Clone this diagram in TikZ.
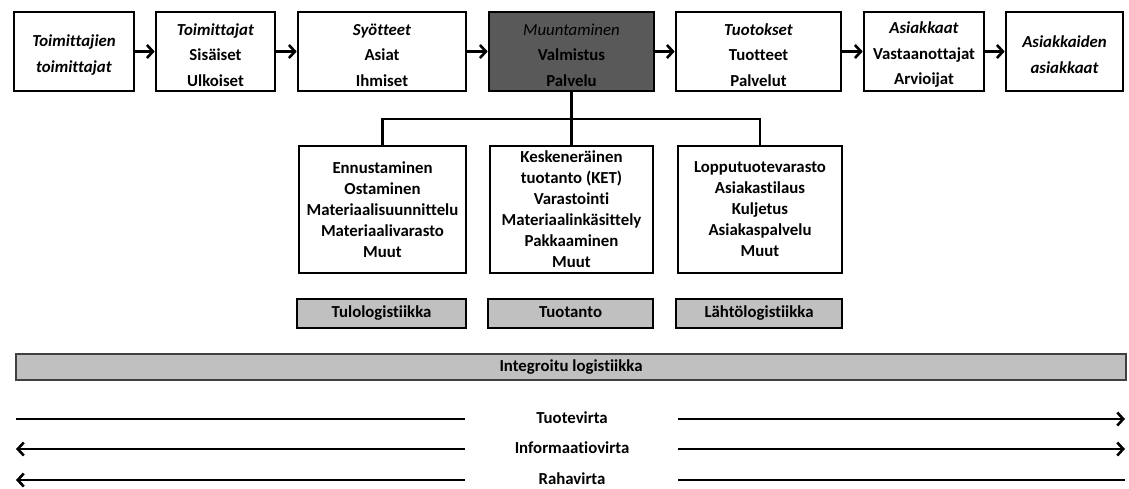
\documentclass[tikz,border=0pt]{standalone}
\usepackage{fontspec}
\setmainfont{Carlito}[Ligatures=NoCommon]
\usetikzlibrary{arrows.meta}
\definecolor{darkfill}{HTML}{595959}
\definecolor{lightfill}{HTML}{C0C0C0}
\definecolor{barline}{HTML}{404040}
% extra height on the first line lowers the text block a little
\newcommand\chainstrut{\rule{0pt}{18.5pt}}
\begin{document}
\begin{tikzpicture}[x=1pt,y=-1pt,
  chain/.style={draw, line width=2.6pt, fill=white, minimum height=79pt, inner sep=0pt,
    align=center, font=\bfseries\fontsize{16.8}{25.5}\selectfont},
  task/.style={draw, line width=1.3pt, fill=white, minimum height=127pt, inner sep=0pt,
    align=center, font=\bfseries\fontsize{16.8}{21}\selectfont},
  area/.style={draw, line width=2.6pt, fill=lightfill, minimum height=29pt, inner sep=0pt,
    text height=11.5pt, text depth=3.5pt, font=\bfseries\fontsize{16.8}{20}\selectfont},
  flowtext/.style={inner sep=0pt, text height=11.5pt, text depth=3.5pt,
    font=\bfseries\fontsize{16.8}{20}\selectfont},
  link/.style={line width=2.6pt},
  tip/.style={-{Straight Barb[length=6pt,width=13pt]}},
  pit/.style={{Straight Barb[length=6pt,width=13pt]}-}
]
\useasboundingbox (0,0) rectangle (1129,488);

% value chain
\node[chain, minimum width=120pt] (sup2) at (74,51.5) {\chainstrut\textit{Toimittajien}\\\textit{toimittajat}};
\node[chain, minimum width=119pt] (sup) at (215.5,51.5) {\chainstrut\textit{Toimittajat}\\Sisäiset\\Ulkoiset};
\node[chain, minimum width=168pt] (inp) at (382,51.5) {\chainstrut\textit{Syötteet}\\Asiat\\Ihmiset};
\node[chain, minimum width=165pt, fill=darkfill, text=black] (trans) at (571.5,51.5)
  {\chainstrut{\mdseries\textit{Muuntaminen}}\\Valmistus\\Palvelu};
\node[chain, minimum width=165pt] (outp) at (758.5,51.5) {\chainstrut\textit{Tuotokset}\\Tuotteet\\Palvelut};
\node[chain, minimum width=120pt] (cust) at (924,51.5) {\chainstrut\textit{Asiakkaat}\\Vastaanottajat\\Arvioijat};
\node[chain, minimum width=117pt] (cust2) at (1064.5,51.5) {\chainstrut\textit{Asiakkaiden}\\\textit{asiakkaat}};

\foreach \a/\b in {sup2/sup, sup/inp, inp/trans, trans/outp, outp/cust, cust/cust2}
  \draw[link, tip] (\a) -- (\b);

% logistics tasks
\node[task, minimum width=167pt] (inT) at (382.5,209.5)
  {Ennustaminen\\Ostaminen\\Materiaalisuunnittelu\\Materiaalivarasto\\Muut};
\node[task, minimum width=163pt] (prT) at (571.5,209.5)
  {Keskeneräinen\\tuotanto (KET)\\Varastointi\\Materiaalinkäsittely\\Pakkaaminen\\Muut};
\node[task, minimum width=164pt] (outT) at (760,209.5)
  {Lopputuotevarasto\\Asiakastilaus\\Kuljetus\\Asiakaspalvelu\\Muut};

\coordinate (hub) at (571.5,119);
\draw[link] (trans.south) -- (hub);
\draw[link] (inT.north) |- (hub) -| (outT.north);
\draw[link] (hub) -- (prT.north);

% logistics areas
\node[area, minimum width=169pt] (inA) at (381.5,313.5) {Tulologistiikka};
\node[area, minimum width=165pt] (prA) at (570.5,313.5) {Tuotanto};
\node[area, minimum width=166pt] (outA) at (759,313.5) {Lähtölogistiikka};

\node[draw=barline, line width=1.2pt, fill=lightfill, minimum width=1110pt, minimum height=26pt,
  inner sep=0pt, text height=11.5pt, text depth=3.5pt,
  font=\bfseries\fontsize{16.8}{20}\selectfont] (integ) at (571,367) {Integroitu logistiikka};

% flows
\node[flowtext] (f1) at (572,419) {Tuotevirta};
\node[flowtext] (f2) at (572,449) {Informaatiovirta};
\node[flowtext] (f3) at (572,480) {Rahavirta};

\coordinate (f1a) at (16,419);   \coordinate (f1b) at (465,419);
\coordinate (f1c) at (678,419);  \coordinate (f1d) at (1125,419);
\coordinate (f2a) at (16,449);   \coordinate (f2b) at (465,449);
\coordinate (f2c) at (678,449);  \coordinate (f2d) at (1125,449);
\coordinate (f3a) at (16,480);   \coordinate (f3b) at (465,480);
\coordinate (f3c) at (678,480);  \coordinate (f3d) at (1125,480);

\draw[link] (f1a) -- (f1b);
\draw[link, tip] (f1c) -- (f1d);
\draw[link, pit] (f2a) -- (f2b);
\draw[link, tip] (f2c) -- (f2d);
\draw[link, pit] (f3a) -- (f3b);
\draw[link] (f3c) -- (f3d);
\end{tikzpicture}
\end{document}
